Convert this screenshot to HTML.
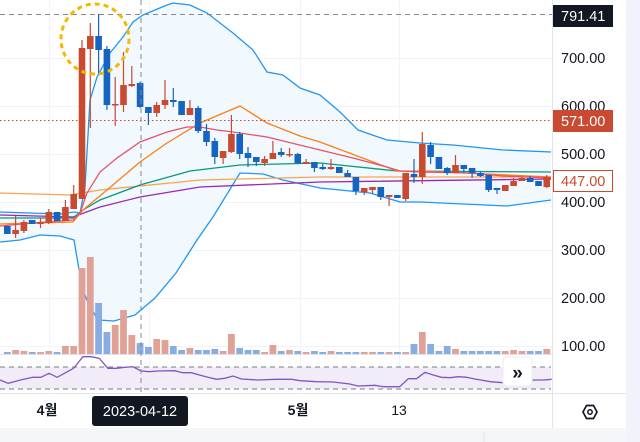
<!DOCTYPE html>
<html><head><meta charset="utf-8">
<style>
html,body{margin:0;padding:0;background:#fff;}
svg{display:block;font-family:"Liberation Sans","Noto Sans CJK KR",sans-serif;}
</style></head>
<body>
<svg id="s" width="640" height="442" viewBox="0 0 640 442" xmlns="http://www.w3.org/2000/svg">
<rect x="0" y="0" width="640" height="442" fill="#fff"/>
<rect x="626" y="0" width="14" height="442" fill="#f0f3fa"/>
<rect x="0" y="428" width="626" height="14" fill="#f5f6f8"/>
<line x1="484" y1="432" x2="484" y2="442" stroke="#e0e3eb"/>
<g id="grid" stroke="#f0f3fa" stroke-width="1"></g>
<g id="bb"></g>
<g id="vol"></g>
<g id="ma" fill="none" stroke-width="1.3"></g>
<g id="candles"></g>
<rect x="0" y="367" width="551" height="22" fill="#f1ecf8"/>
<line x1="0" y1="367" x2="551" y2="367" stroke="#787b86" stroke-dasharray="5 4"/>
<line x1="0" y1="389" x2="551" y2="389" stroke="#787b86" stroke-dasharray="5 4"/>
<polyline id="rsi" fill="none" stroke="#7e57c2" stroke-width="1.3"/>
<line x1="0" y1="354.5" x2="552" y2="354.5" stroke="#e0e3eb"/>
<line x1="0" y1="393.5" x2="626" y2="393.5" stroke="#e0e3eb"/>
<line x1="552.5" y1="0" x2="552.5" y2="428" stroke="#e0e3eb"/>
<line x1="141" y1="0" x2="141" y2="394" stroke="#868993" stroke-dasharray="5 4"/>
<line x1="0" y1="14.5" x2="552" y2="14.5" stroke="#868993" stroke-dasharray="5 4"/>
<line x1="0" y1="120.5" x2="552" y2="120.5" stroke="#c84a31" stroke-dasharray="1.5 2.5"/>
<ellipse cx="95" cy="39" rx="34" ry="35" fill="none" stroke="#f5b800" stroke-width="3" stroke-dasharray="5 4"/>
<rect x="503" y="357" width="29" height="29" rx="4" fill="#fff" stroke="#eceef2"/>
<text x="517.5" y="379" font-size="19" text-anchor="middle" fill="#131722" font-weight="bold">»</text>
<g font-size="14.5" fill="#131722">
<text x="561" y="63">700.00</text>
<text x="561" y="111">600.00</text>
<text x="561" y="159">500.00</text>
<text x="561" y="207">400.00</text>
<text x="561" y="255">300.00</text>
<text x="561" y="303">200.00</text>
<text x="561" y="351">100.00</text>
</g>
<rect x="553" y="5" width="60" height="22" fill="#131722"/>
<text x="561" y="21" font-size="14.5" fill="#fff">791.41</text>
<rect x="553" y="110" width="60" height="22" fill="#c84a31"/>
<text x="561" y="126" font-size="14.5" fill="#fff">571.00</text>
<rect x="553.5" y="170.5" width="59" height="21" fill="#fff" stroke="#c84a31"/>
<text x="561" y="186" font-size="14.5" fill="#c84a31">447.00</text>
<text x="47" y="415" font-size="14" font-weight="bold" fill="#131722" text-anchor="middle">4월</text>
<text x="298" y="415" font-size="14" font-weight="bold" fill="#131722" text-anchor="middle">5월</text>
<text x="399" y="415" font-size="14" fill="#131722" text-anchor="middle">13</text>
<rect x="92" y="396" width="96" height="30" rx="3" fill="#131722"/>
<text x="140" y="416" font-size="14.5" fill="#fff" text-anchor="middle">2023-04-12</text>
<polygon points="583,412 586.5,405.5 593.5,405.5 597,412 593.5,418.5 586.5,418.5" fill="none" stroke="#131722" stroke-width="1.7"/>
<circle cx="590" cy="412" r="2.2" fill="none" stroke="#131722" stroke-width="1.5"/>
</svg>
<script>
var NS="http://www.w3.org/2000/svg";
function el(p,t,a){var e=document.createElementNS(NS,t);for(var k in a)e.setAttribute(k,a[k]);document.getElementById(p).appendChild(e);return e;}
[58,106,154,202,250,298,346].forEach(function(y){el("grid","line",{x1:0,y1:y+.5,x2:552,y2:y+.5});});
[49,149,300,399].forEach(function(x){el("grid","line",{x1:x+.5,y1:0,x2:x+.5,y2:393});});
function pts(a){return a.map(function(p){return p.join(",");}).join(" ");}
var up=[[0,212],[60,214],[74,212],[80,213],[85,187],[90,100],[97,77],[110,53],[123,37],[133,22],[143,15],[167,5],[173,3],[190,5],[207,13],[233,33],[253,50],[267,72],[283,75],[300,88],[320,95],[340,112],[358,130],[387,140],[420,143],[453,145],[503,150],[551,152]];
var lo=[[0,242],[20,240],[40,235],[60,236],[74,240],[82,287],[88,303],[98,320],[114,321],[135,315],[155,298],[176,273],[197,240],[213,217],[240,173],[263,174],[283,180],[320,188],[370,193],[400,202],[420,202],[507,206],[551,200]];
el("bb","polygon",{points:pts(up.concat(lo.slice().reverse())),fill:"#f1f8fe"});
el("bb","polyline",{points:pts(up),fill:"none",stroke:"#2196f3","stroke-width":1.3});
el("bb","polyline",{points:pts(lo),fill:"none",stroke:"#2196f3","stroke-width":1.3});
var mas=[
["#f7a64b",[[0,193],[70,195],[100,190],[200,180],[320,177],[551,177]]],
["#9c27b0",[[0,215],[73,217],[100,207],[140,197],[200,187],[320,182],[551,179]]],
["#089981",[[0,218],[73,218],[83,210],[100,200],[140,185],[190,171],[240,165],[320,163],[397,171],[551,172]]],
["#ff7f0e",[[0,224],[73,222],[83,210],[107,190],[140,162],[167,143],[200,123],[240,106],[267,123],[300,136],[320,142],[360,157],[397,171],[420,171],[551,177]]],
["#e8526a",[[0,226],[33,223],[73,220],[80,213],[87,193],[100,172],[117,158],[140,142],[167,132],[187,127],[200,127],[217,130],[233,132],[267,137],[320,150],[353,158],[387,167],[400,171],[420,172],[470,173],[503,176],[551,178]]]];
mas.forEach(function(m){el("ma","polyline",{points:pts(m[1]),stroke:m[0]});});
var C=[[226,234,226,234,0],[230,234,216,238,1],[222,231,220,233,1],[220,224,220,224,0],[222,224,218,228,1],[212,223,209,224,1],[212,221,212,221,0],[207,221,200,221,1],[194,209,185,209,1],[48,199,40,199,1],
[36,49,23,128,1],[36,50,14,73,0],[49,105,46,110,0],[104,105,77,126,1],[85,105,52,112,1],[84,86,66,87,1],[83,107,82,108,0],[107,113,107,125,0],[105,113,102,117,1],[100,105,80,109,1],
[100,102,88,107,0],[101,115,101,115,0],[108,115,100,115,1],[108,131,106,133,0],[131,142,124,146,0],[141,157,138,164,0],[151,158,151,164,1],[134,152,115,153,1],[134,154,132,159,0],[153,158,147,167,0],
[157,162,157,166,0],[159,163,156,166,1],[153,159,141,159,1],[152,155,148,157,0],[154,155,148,157,1],[154,163,153,164,0],[162,164,159,164,1],[162,168,162,172,0],[167,169,164,170,0],[167,169,159,170,1],
[167,173,167,173,0],[173,177,170,177,0],[177,191,177,195,0],[188,192,188,195,1],[187,190,187,194,1],[187,197,187,200,0],[195,197,195,206,1],[195,198,195,198,0],[173,199,173,201,1],[174,177,159,183,0],
[144,177,132,184,1],[145,157,142,164,0],[157,169,157,169,0],[168,173,167,175,0],[165,173,155,173,1],[165,169,165,173,0],[168,173,168,178,0],[173,176,172,177,0],[175,190,175,192,0],[188,190,188,194,0],
[185,191,185,191,1],[181,186,178,186,1],[178,181,177,181,1],[178,182,176,182,0],[181,186,181,186,0],[177,187,175,188,1]];
var V=[352,350,351,352,352,351,352,346,346,268,257,303,332,325,310,335,343,347,339,340,346,350,348,350,350,349,351,334,348,350,350,352,345,351,350,351,352,351,352,351,352,352,352,352,352,352,352,352,352,344,332,344,351,346,349,351,351,351,351,351,351,350,351,351,351,349];
C.forEach(function(c,i){
 var x=7.3+8.3*i, col=c[4]?"#c84a31":"#1565c0", vc=c[4]?"#e0a296":"#88ade0";
 el("vol","rect",{x:x-3.4,y:V[i],width:6.8,height:354-V[i],fill:vc});
 el("candles","line",{x1:x,y1:c[2],x2:x,y2:c[3],stroke:col,"stroke-width":1.2});
 el("candles","rect",{x:x-3.3,y:c[0],width:6.6,height:Math.max(1.5,c[1]-c[0]),fill:col});
});
var R=[[0,420],[20,430],[50,420],[80,412],[100,412],[120,400],[140,412],[165,395],[180,385],[203,350],[223,350],[243,355],[264,385],[285,385],[305,382],[325,380],[345,393],[366,395],[386,393],[427,392],[447,398],[468,398],[488,405],[509,412],[530,418],[550,415],[570,408],[591,417],[632,420],[673,418],[714,418],[734,422],[775,425],[815,426],[856,432],[876,438],[917,436],[938,440],[978,440],[999,416],[1019,416],[1040,397],[1060,405],[1080,412],[1101,413],[1121,410],[1142,412],[1162,417],[1200,425],[1230,428],[1310,420],[1330,420],[1350,418]];
document.getElementById("rsi").setAttribute("points",R.map(function(p){return (p[0]*0.4087).toFixed(1)+","+(240+p[1]/3).toFixed(1);}).join(" "));
</script>
</body></html>
